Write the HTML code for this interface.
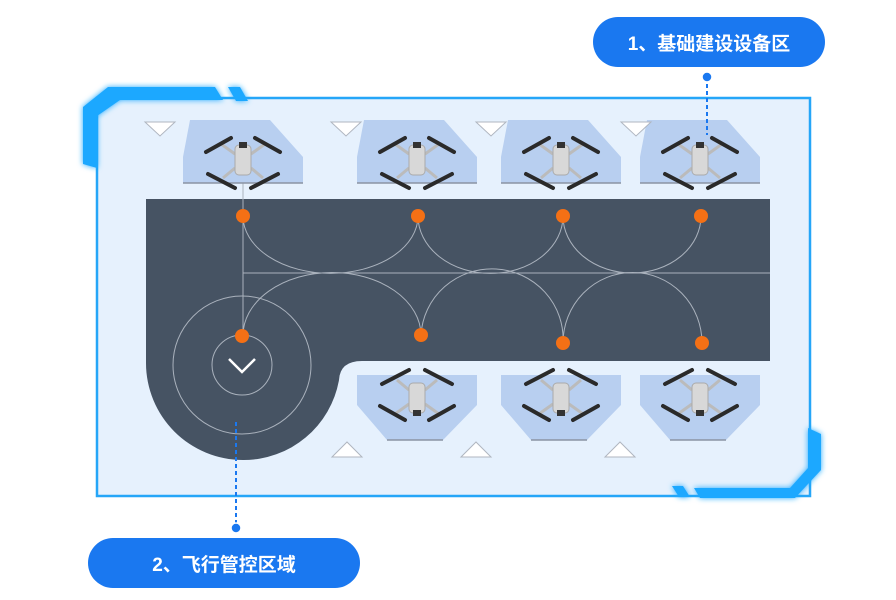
<!DOCTYPE html>
<html><head><meta charset="utf-8"><style>
html,body{margin:0;padding:0;background:#fff;width:896px;height:600px;overflow:hidden}
.pill{position:absolute;background:#1a78f0;color:#fff;border-radius:25px;font-family:"Liberation Sans","Noto Sans CJK SC",sans-serif;font-weight:bold;font-size:19px;display:flex;align-items:center;justify-content:center}
</style></head><body>
<svg width="896" height="600" style="position:absolute;left:0;top:0">
<defs>
<filter id="gl" x="-20%" y="-20%" width="140%" height="140%"><feGaussianBlur stdDeviation="3" result="b"/><feMerge><feMergeNode in="b"/><feMergeNode in="SourceGraphic"/></feMerge></filter>
<g id="dr">
 <line x1="-8" y1="-6" x2="-22" y2="-16" stroke="#bbb" stroke-width="3"/>
 <line x1="8" y1="-6" x2="22" y2="-16" stroke="#bbb" stroke-width="3"/>
 <line x1="-8" y1="8" x2="-20" y2="18" stroke="#bbb" stroke-width="3"/>
 <line x1="8" y1="8" x2="20" y2="18" stroke="#bbb" stroke-width="3"/>
 <line x1="-37" y1="-8" x2="-12" y2="-22" stroke="#2a2a2a" stroke-width="4" stroke-linecap="round"/>
 <line x1="12" y1="-22" x2="37" y2="-8" stroke="#2a2a2a" stroke-width="4" stroke-linecap="round"/>
 <line x1="-35" y1="14" x2="-8" y2="28" stroke="#2a2a2a" stroke-width="4" stroke-linecap="round"/>
 <line x1="8" y1="28" x2="35" y2="14" stroke="#2a2a2a" stroke-width="4" stroke-linecap="round"/>
 <rect x="-8" y="-15" width="16" height="30" rx="4" fill="#d8d8d8" stroke="#aaa"/>
 <rect x="-4" y="-18" width="8" height="6" fill="#333"/>
</g>
</defs>
<rect x="97" y="98" width="713" height="398" fill="#e6f1fd" stroke="#25a6f8" stroke-width="2.5"/>
<g fill="#1fa8ff" filter="url(#gl)">
<polygon points="83,107 108,87 215,87 223,100 120,100 97,116 97,168 83,164"/>
<polygon points="228,87 240,87 248,101 236,101"/>
<polygon points="808,428 821,434 821,470 795,498 700,498 694,488 790,488 808,468"/>
<polygon points="672,486 683,486 690,497 679,497"/>
</g>
<path d="M146,199 H770 V361 H362 Q340,361 339,380 A97,97 0 0 1 243,460 A97,97 0 0 1 146,363 Z" fill="#465363"/>
<g fill="none" stroke="#aab2bd" stroke-width="1">
<line x1="243" y1="183" x2="243" y2="336"/>
<line x1="243" y1="273" x2="770" y2="273"/>
<path d="M243,216 A87,57 0 0 0 418,216"/>
<path d="M418,216 A72,57 0 0 0 563,216"/>
<path d="M563,216 A69,57 0 0 0 701,216"/>
<path d="M243,336 A89,63 0 0 1 421,335"/>
<path d="M421,335 A71,70 0 0 1 563,343"/>
<path d="M563,343 A69,70 0 0 1 702,343"/>
<circle cx="242" cy="365" r="30"/>
<circle cx="242" cy="365" r="69"/>
</g>
<polyline points="229,359 242,372 255,359" fill="none" stroke="#fff" stroke-width="2.5"/>
<g fill="#f47015">
<circle cx="243" cy="216" r="7"/><circle cx="418" cy="216" r="7"/><circle cx="563" cy="216" r="7"/><circle cx="701" cy="216" r="7"/>
<circle cx="242" cy="336" r="7"/><circle cx="421" cy="335" r="7"/><circle cx="563" cy="343" r="7"/><circle cx="702" cy="343" r="7"/>
</g>
<g fill="#b8cff0">
<polygon points="190,120 270,120 303,157 303,183 183,183 183,157"/>
<polygon points="364,120 444,120 477,157 477,183 357,183 357,157"/>
<polygon points="508,120 588,120 621,157 621,183 501,183 501,157"/>
<polygon points="647,120 727,120 760,157 760,183 640,183 640,157"/>
<polygon points="357,375 477,375 477,405 443,440 387,440 357,405"/>
<polygon points="501,375 621,375 621,405 587,440 531,440 501,405"/>
<polygon points="640,375 760,375 760,405 726,440 670,440 640,405"/>
</g>
<g stroke="#8a94a3" stroke-width="1.5">
<line x1="183" y1="183" x2="303" y2="183"/><line x1="357" y1="183" x2="477" y2="183"/><line x1="501" y1="183" x2="621" y2="183"/><line x1="640" y1="183" x2="760" y2="183"/>
<line x1="387" y1="440" x2="443" y2="440"/><line x1="531" y1="440" x2="587" y2="440"/><line x1="670" y1="440" x2="726" y2="440"/>
</g>
<use href="#dr" x="243" y="160"/><use href="#dr" x="417" y="160"/><use href="#dr" x="561" y="160"/><use href="#dr" x="700" y="160"/>
<use href="#dr" x="417" y="398" transform="rotate(180 417 398)"/><use href="#dr" x="561" y="398" transform="rotate(180 561 398)"/><use href="#dr" x="700" y="398" transform="rotate(180 700 398)"/>
<g stroke="#b0b6c0" stroke-width="1">
<polygon points="145,122 175,122 160,136" fill="#fff"/><polygon points="331,122 361,122 346,136" fill="#fff"/><polygon points="476,122 506,122 491,136" fill="#fff"/><polygon points="621,122 651,122 636,136" fill="#fff"/>
<polygon points="332,457 362,457 347,442" fill="#fff"/><polygon points="461,457 491,457 476,442" fill="#fff"/><polygon points="605,457 635,457 620,442" fill="#fff"/>
</g>
<line x1="707" y1="77" x2="707" y2="135" stroke="#1a78f0" stroke-width="2" stroke-dasharray="4,3"/>
<circle cx="707" cy="77" r="5" fill="#1a78f0" stroke="#fff" stroke-width="1.5"/>
<line x1="236" y1="422" x2="236" y2="526" stroke="#1a78f0" stroke-width="2" stroke-dasharray="4,3"/>
<circle cx="236" cy="528" r="5" fill="#1a78f0" stroke="#fff" stroke-width="1.5"/>
</svg>
<div class="pill" style="left:593px;top:17px;width:232px;height:50px">1、基础建设设备区</div>
<div class="pill" style="left:88px;top:538px;width:272px;height:50px">2、飞行管控区域</div>
</body></html>
